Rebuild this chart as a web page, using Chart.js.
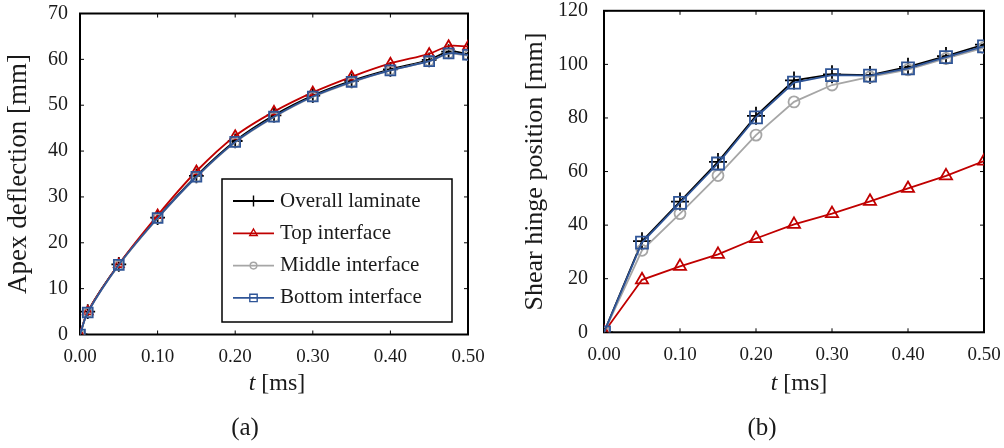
<!DOCTYPE html>
<html lang="en">
<head>
    <meta charset="UTF-8">
    <title>Apex deflection and shear hinge position</title>
    <script src="https://cdn.jsdelivr.net/npm/chart.js"></script>
    <style>
        body {
            margin: 0;
            padding: 0;
            background: #ffffff;
            width: 1004px;
            height: 448px;
            position: relative;
            overflow: hidden;
        }
        canvas {
            position: absolute;
            top: 0;
        }
        #deflectionChart { left: 0; }
        #hingeChart { left: 500px; }
    </style>
</head>
<body>
    <canvas id="deflectionChart" width="500" height="448"></canvas>
    <canvas id="hingeChart" width="504" height="448"></canvas>

    <script>
        // Series names (same four series in both panels)
        const seriesNames = ['Overall laminate', 'Top interface', 'Middle interface', 'Bottom interface'];

        // (a) apex deflection [mm] vs time [ms]
        const timeA = [0, 0.01, 0.05, 0.10, 0.15, 0.20, 0.25, 0.30, 0.35, 0.40, 0.45, 0.475, 0.50];
        const deflOverall = [0, 5.0, 15.3, 25.5, 34.6, 42.2, 47.8, 52.1, 55.3, 57.8, 59.9, 61.7, 61.2];
        const deflTop     = [0, 5.0, 15.3, 26.0, 35.6, 43.3, 48.6, 52.8, 56.2, 59.1, 61.2, 62.9, 62.8];
        const deflMiddle  = [0, 4.8, 15.1, 25.3, 34.3, 41.9, 47.4, 51.8, 55.0, 57.6, 59.6, 61.2, 60.8];
        const deflBottom  = [0, 4.8, 15.2, 25.4, 34.4, 42.0, 47.5, 51.9, 55.1, 57.6, 59.6, 61.3, 61.0];

        // (b) shear hinge position [mm] vs time [ms]
        const timeB = [0, 0.05, 0.10, 0.15, 0.20, 0.25, 0.30, 0.35, 0.40, 0.45, 0.50];
        const hingeOverall = [0, 34.0, 48.8, 63.6, 80.8, 94.0, 96.3, 96.0, 99.1, 103.1, 107.4];
        const hingeTop     = [0, 19.6, 24.6, 29.1, 35.0, 40.3, 44.3, 48.9, 53.7, 58.4, 63.9];
        const hingeMiddle  = [0, 30.6, 44.3, 58.5, 73.6, 86.0, 92.3, 95.3, 98.0, 102.2, 106.2];
        const hingeBottom  = [0, 33.5, 48.3, 63.0, 80.2, 93.2, 96.0, 95.8, 98.5, 102.7, 106.7];

        // axis ranges / tick steps
        const timeRange = [0, 0.5, 0.1];
        const deflRange = [0, 70, 10];
        const hingeRange = [0, 120, 20];

        const SERIF = '"Liberation Serif", "Times New Roman", serif';
        const TEXT = '#1a1a1a';

        // marker look for each series, in seriesNames order
        const seriesStyle = [
            { color: '#000000', pointStyle: 'cross',    radius: 9,   order: 3 },
            { color: '#C00000', pointStyle: 'triangle', radius: 7,   order: 2 },
            { color: '#A6A6A6', pointStyle: 'circle',   radius: 5.5, order: 1 },
            { color: '#2F5597', pointStyle: 'rect',     radius: 8.5, order: 0 }
        ];

        function makeDatasets(times, seriesList, markerScale, tension) {
            return seriesList.map((values, i) => {
                const s = seriesStyle[i];
                return {
                    label: seriesNames[i],
                    data: times.map((t, k) => ({ x: t, y: values[k] })),
                    showLine: true,
                    borderColor: s.color,
                    backgroundColor: 'rgba(0,0,0,0)',
                    borderWidth: 1.8,
                    tension: tension,
                    pointStyle: s.pointStyle,
                    pointRadius: s.radius * markerScale,
                    pointBorderWidth: 1.8,
                    pointBorderColor: s.color,
                    pointBackgroundColor: 'rgba(0,0,0,0)',
                    order: s.order
                };
            });
        }

        // plot frame, inward ticks, x title with italic t, panel caption, boxed legend
        const framePlugin = {
            id: 'frame',
            beforeDatasetsDraw(chart) {
                const { ctx, chartArea: a, scales } = chart;
                ctx.save();
                ctx.strokeStyle = '#000';
                ctx.lineWidth = 1;
                ctx.beginPath();
                scales.x.ticks.forEach(t => {
                    const px = scales.x.getPixelForValue(t.value);
                    ctx.moveTo(px, a.bottom); ctx.lineTo(px, a.bottom - 4);
                    ctx.moveTo(px, a.top); ctx.lineTo(px, a.top + 4);
                });
                scales.y.ticks.forEach(t => {
                    const py = scales.y.getPixelForValue(t.value);
                    ctx.moveTo(a.left, py); ctx.lineTo(a.left + 4, py);
                    ctx.moveTo(a.right, py); ctx.lineTo(a.right - 4, py);
                });
                ctx.stroke();
                ctx.lineWidth = 2;
                ctx.strokeRect(a.left, a.top, a.right - a.left, a.bottom - a.top);
                ctx.restore();
            },
            afterDraw(chart, args, opts) {
                const { ctx } = chart;
                ctx.save();
                ctx.fillStyle = TEXT;
                ctx.textBaseline = 'middle';

                // x axis title: italic "t" followed by " [ms]"
                const italic = 'italic 24px ' + SERIF;
                const upright = '24px ' + SERIF;
                ctx.font = italic;
                const wT = ctx.measureText('t').width;
                ctx.font = upright;
                const wRest = ctx.measureText(' [ms]').width;
                let x0 = opts.titleX - (wT + wRest) / 2;
                ctx.font = italic;
                ctx.textAlign = 'left';
                ctx.fillText('t', x0, opts.titleY);
                ctx.font = upright;
                ctx.fillText(' [ms]', x0 + wT, opts.titleY);

                // panel caption
                ctx.font = '25px ' + SERIF;
                ctx.textAlign = 'center';
                ctx.fillText(opts.caption, opts.captionX, opts.captionY);

                // legend inside the plot
                if (opts.legend) {
                    const L = opts.legend;
                    ctx.fillStyle = '#fff';
                    ctx.fillRect(L.left, L.top, L.right - L.left, L.bottom - L.top);
                    ctx.strokeStyle = '#000';
                    ctx.lineWidth = 1.5;
                    ctx.strokeRect(L.left, L.top, L.right - L.left, L.bottom - L.top);
                    chart.data.datasets.forEach((ds, i) => {
                        const y = L.firstRow + i * L.rowGap;
                        ctx.strokeStyle = ds.borderColor;
                        ctx.lineWidth = 1.8;
                        ctx.beginPath();
                        ctx.moveTo(L.lineStart, y);
                        ctx.lineTo(L.lineEnd, y);
                        ctx.stroke();
                        ctx.fillStyle = 'rgba(0,0,0,0)';
                        ctx.lineWidth = 1.4;
                        Chart.helpers.drawPoint(ctx, {
                            pointStyle: ds.pointStyle,
                            radius: ds.pointRadius * 0.75,
                            rotation: 0,
                            borderWidth: 1.4
                        }, (L.lineStart + L.lineEnd) / 2, y);
                        ctx.fillStyle = TEXT;
                        ctx.font = '21px ' + SERIF;
                        ctx.textAlign = 'left';
                        ctx.fillText(ds.label, L.textX, y);
                    });
                }
                ctx.restore();
            }
        };

        function buildChart(canvasId, datasets, yRange, yTitle, geom, frameOpts) {
            const ctx = document.getElementById(canvasId).getContext('2d');
            return new Chart(ctx, {
                type: 'scatter',
                data: { datasets: datasets },
                plugins: [framePlugin],
                options: {
                    responsive: false,
                    animation: false,
                    events: [],
                    layout: { padding: { top: geom.top, right: geom.right, bottom: 0, left: 0 } },
                    plugins: {
                        legend: { display: false },
                        tooltip: { enabled: false },
                        frame: frameOpts
                    },
                    scales: {
                        x: {
                            type: 'linear',
                            min: timeRange[0],
                            max: timeRange[1],
                            grid: { display: false, drawTicks: false },
                            border: { display: false },
                            ticks: {
                                stepSize: timeRange[2],
                                padding: 11,
                                color: TEXT,
                                font: { family: SERIF, size: 19 },
                                maxRotation: 0,
                                callback: v => v.toFixed(2)
                            },
                            afterFit: scale => {
                                scale.height = geom.xHeight;
                                scale.paddingLeft = 0;
                                scale.paddingRight = 0;
                            }
                        },
                        y: {
                            min: yRange[0],
                            max: yRange[1],
                            grid: { display: false, drawTicks: false },
                            border: { display: false },
                            ticks: {
                                stepSize: yRange[2],
                                padding: geom.yTickPad,
                                color: TEXT,
                                font: { family: SERIF, size: 20 }
                            },
                            title: {
                                display: true,
                                text: yTitle,
                                color: TEXT,
                                font: { family: SERIF, size: geom.yTitleSize },
                                padding: { top: geom.yTitlePad, bottom: 0 }
                            },
                            afterFit: scale => {
                                scale.width = geom.yWidth;
                                scale.paddingTop = 0;
                                scale.paddingBottom = 0;
                            }
                        }
                    }
                }
            });
        }

        document.addEventListener('DOMContentLoaded', () => {
            // (a) smoothed lines with legend
            buildChart('deflectionChart',
                makeDatasets(timeA, [deflOverall, deflTop, deflMiddle, deflBottom], 0.82, 0.3),
                deflRange, 'Apex deflection [mm]',
                { top: 13.5, right: 32, xHeight: 113.5, yWidth: 80, yTickPad: 12, yTitlePad: 3, yTitleSize: 27 },
                {
                    caption: '(a)', captionX: 245, captionY: 428,
                    titleX: 277, titleY: 384,
                    legend: {
                        left: 222, top: 179, right: 452, bottom: 322,
                        firstRow: 201, rowGap: 32.3,
                        lineStart: 233, lineEnd: 274, textX: 280
                    }
                });

            // (b) straight segments, no legend
            buildChart('hingeChart',
                makeDatasets(timeB, [hingeOverall, hingeTop, hingeMiddle, hingeBottom], 1, 0),
                hingeRange, 'Shear hinge position [mm]',
                { top: 9.3, right: 20, xHeight: 115.7, yWidth: 104, yTickPad: 16, yTitlePad: 20, yTitleSize: 26 },
                {
                    caption: '(b)', captionX: 262, captionY: 428,
                    titleX: 299, titleY: 384
                });
        });
    </script>
</body>
</html>
